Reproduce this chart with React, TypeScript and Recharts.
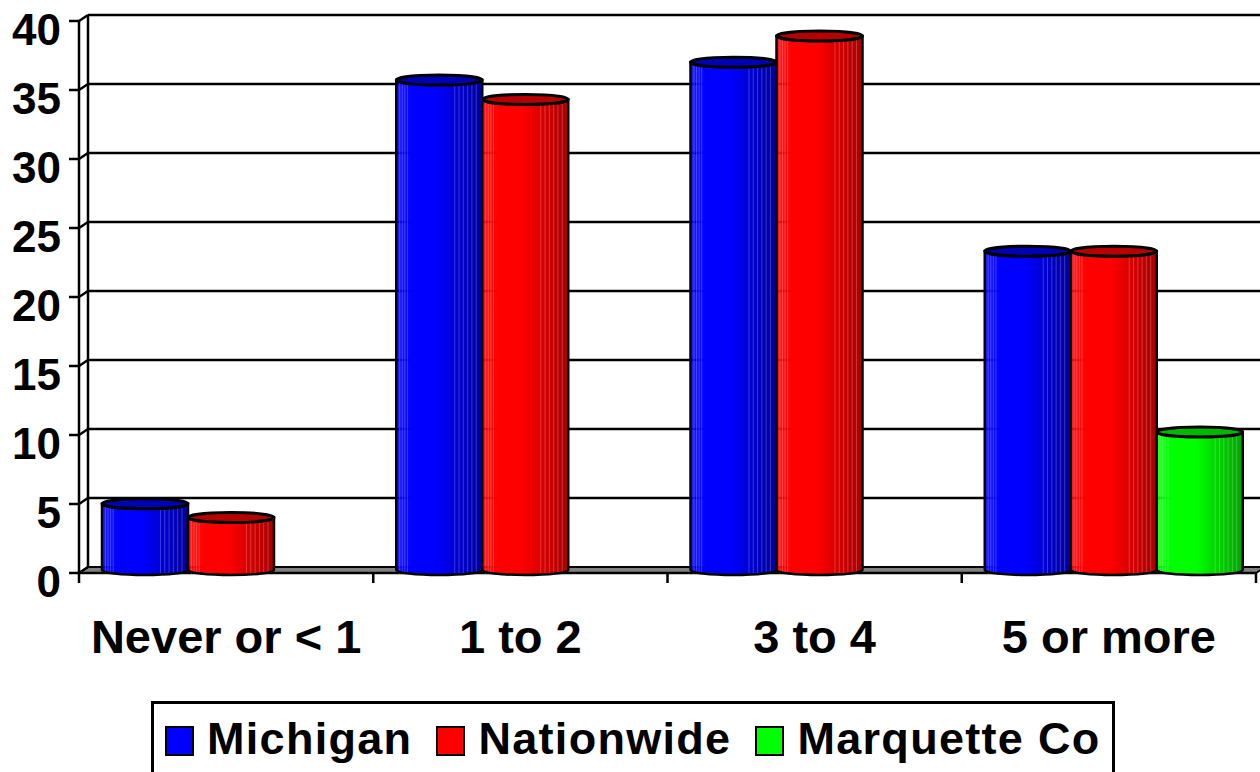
import { BarChart, Bar, XAxis, YAxis, CartesianGrid } from 'recharts'

const categories = ['Never or < 1', '1 to 2', '3 to 4', '5 or more']
const michigan = [4.8, 35.5, 36.8, 23.1]
const nationwide = [3.8, 34.1, 38.7, 23.1]
const marquette = [null, null, null, 10]
const yTicks = [0, 5, 10, 15, 20, 25, 30, 35, 40]

const series = [
  { key: 'michigan', name: 'Michigan', light: '#0000ff', dark: '#00009c', top: '#0000b4' },
  { key: 'nationwide', name: 'Nationwide', light: '#ff0000', dark: '#a80000', top: '#b80000' },
  { key: 'marquette', name: 'Marquette Co', light: '#00ff00', dark: '#00a400', top: '#00b800' },
]

const data = categories.map((category, i) => ({
  category,
  michigan: michigan[i],
  nationwide: nationwide[i],
  marquette: marquette[i],
}))

const W = 1260
const H = 772
const PLOT_LEFT = 79
const PLOT_TOP = 21
const PLOT_BOTTOM = 573
// 3D depth offset of the back wall
const DX = 9
const DY = 6
const FONT = "'Liberation Sans', Arial, sans-serif"
const STRIPES = [0.04, 0.07, 0.1, 0.13, 0.68, 0.73, 0.78, 0.83, 0.88, 0.93]

function Cylinder(props: any) {
  const { x, y, width, height, s } = props
  if (height == null || height <= 0 || isNaN(y)) return <g />
  const left = x + 5.5
  const right = left + width
  const rx = width / 2
  const ry = 5
  const yt = y - 3
  const yb = y + height - 3
  const body = `M${left},${yt} L${left},${yb} A${rx},${ry} 0 0 0 ${right},${yb} L${right},${yt} Z`
  return (
    <g>
      <path d={body} fill={`url(#grad-${s.key})`} />
      {STRIPES.map((f) => (
        <line
          key={f}
          x1={left + f * width}
          x2={left + f * width}
          y1={yt}
          y2={yb + ry * 0.8}
          stroke="#fff"
          strokeOpacity={0.22}
          strokeWidth={1}
        />
      ))}
      <path d={body} fill="none" stroke="#000" strokeWidth={2.5} />
      <ellipse cx={left + rx} cy={yt} rx={rx} ry={ry} fill={s.top} stroke="#000" strokeWidth={3} />
    </g>
  )
}

function YTick({ y, payload }: any) {
  return (
    <g>
      <line x1={PLOT_LEFT - 10} y1={y} x2={PLOT_LEFT} y2={y} stroke="#000" strokeWidth={2.5} />
      <line x1={PLOT_LEFT} y1={y} x2={PLOT_LEFT + DX} y2={y - DY} stroke="#000" strokeWidth={2.5} />
      <text
        x={61}
        y={y + 24}
        textAnchor="end"
        fontFamily={FONT}
        fontWeight="bold"
        fontSize={44}
        fill="#000"
      >
        {payload.value}
      </text>
    </g>
  )
}

function XTick({ x, payload }: any) {
  return (
    <text
      x={x}
      y={PLOT_BOTTOM + 80}
      textAnchor="middle"
      fontFamily={FONT}
      fontWeight="bold"
      fontSize={47}
      fill="#000"
    >
      {payload.value}
    </text>
  )
}

function GridLine(p: any) {
  const { x1, x2, y1 } = p
  if (Math.abs(y1 - PLOT_BOTTOM) < 1) {
    const n = categories.length
    const step = (x2 - x1) / n
    return (
      <g key={p.key}>
        <polygon
          points={`${x1},${y1} ${x2},${y1} ${x2 + DX},${y1 - DY} ${x1 + DX},${y1 - DY}`}
          fill="#808080"
          stroke="#000"
          strokeWidth={2}
        />
        <line x1={x1} y1={PLOT_TOP} x2={x1} y2={y1 + 10} stroke="#000" strokeWidth={2.5} />
        <line x1={x1 + DX} y1={PLOT_TOP - DY} x2={x1 + DX} y2={y1 - DY} stroke="#000" strokeWidth={2.5} />
        <line x1={x1} y1={y1} x2={x2} y2={y1} stroke="#000" strokeWidth={2.5} />
        {categories.map((c, k) => (
          <line
            key={c}
            x1={x1 + (k + 1) * step}
            x2={x1 + (k + 1) * step}
            y1={y1}
            y2={y1 + 10}
            stroke="#000"
            strokeWidth={2.5}
          />
        ))}
      </g>
    )
  }
  return (
    <line
      key={p.key}
      x1={x1 + DX}
      y1={y1 - DY}
      x2={x2 + DX}
      y2={y1 - DY}
      stroke="#000"
      strokeWidth={2.5}
    />
  )
}

function LegendBox() {
  return (
    <div
      style={{
        position: 'absolute',
        left: 151,
        top: 701,
        width: 964,
        height: 100,
        boxSizing: 'border-box',
        border: '3px solid #000',
        background: '#fff',
        display: 'flex',
        alignItems: 'flex-start',
        paddingLeft: 11,
        paddingTop: 18,
        fontFamily: FONT,
        fontWeight: 'bold',
        fontSize: 45,
        letterSpacing: 1.3,
        whiteSpace: 'nowrap',
      }}
    >
      {series.map((s) => (
        <div
          key={s.key}
          style={{ display: 'flex', alignItems: 'flex-end', marginRight: 24, flexShrink: 0 }}
        >
          <div
            style={{
              width: 29,
              height: 30,
              boxSizing: 'border-box',
              border: '2px solid #000',
              background: s.light,
              marginRight: 13,
              flexShrink: 0,
            }}
          />
          <span style={{ display: 'block', lineHeight: '34px', height: 34 }}>{s.name}</span>
        </div>
      ))}
    </div>
  )
}

export default function App() {
  return (
    <div style={{ position: 'relative', width: W, height: H, overflow: 'hidden', background: '#fff' }}>
      <style>{'body{margin:0;overflow:hidden}'}</style>
      <BarChart
        width={W}
        height={H}
        data={data}
        margin={{ top: PLOT_TOP, right: 4, left: 0, bottom: 0 }}
        barCategoryGap={17.5}
        barGap={0}
      >
        <defs>
          {series.map((s) => (
            <linearGradient key={s.key} id={`grad-${s.key}`} x1="0" y1="0" x2="1" y2="0">
              <stop offset="0%" stopColor={s.light} stopOpacity={0.88} />
              <stop offset="18%" stopColor={s.light} />
              <stop offset="45%" stopColor={s.light} />
              <stop offset="100%" stopColor={s.dark} />
            </linearGradient>
          ))}
        </defs>
        <CartesianGrid vertical={false} horizontal={GridLine} />
        <XAxis
          dataKey="category"
          height={199}
          axisLine={false}
          tickLine={false}
          tickSize={0}
          tickMargin={0}
          tick={<XTick />}
          interval={0}
        />
        <YAxis
          width={PLOT_LEFT}
          domain={[0, 40]}
          ticks={yTicks}
          axisLine={false}
          tickLine={false}
          tickSize={0}
          tickMargin={0}
          tick={<YTick />}
          interval={0}
        />
        {series.map((s) => (
          <Bar
            key={s.key}
            dataKey={s.key}
            name={s.name}
            fill={s.light}
            isAnimationActive={false}
            shape={(p: any) => <Cylinder {...p} s={s} />}
          />
        ))}
      </BarChart>
      <LegendBox />
    </div>
  )
}
